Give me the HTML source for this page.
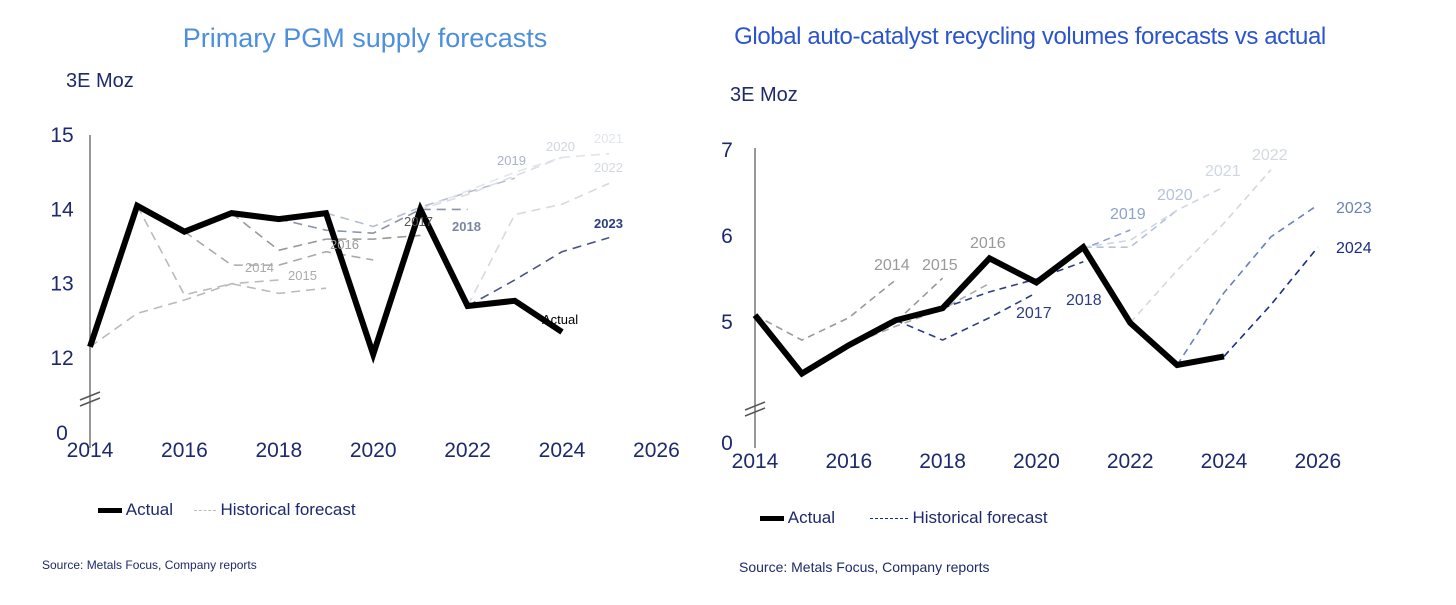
<!DOCTYPE html>
<html><head><meta charset="utf-8"><style>
body{margin:0;background:#fff;width:1456px;height:605px;overflow:hidden;font-family:"Liberation Sans",sans-serif}
svg{position:absolute;left:0;top:0}
</style></head><body>
<svg id="c" width="1456" height="605"></svg>
<script>
const years=[2014,2015,2016,2017,2018,2019,2020,2021,2022,2023,2024,2025,2026];
const leftActual=[12.15,14.05,13.7,13.95,13.87,13.95,12.05,14.0,12.7,12.77,12.35];
const leftForecastStart=[2014,2015,2016,2017,2018,2019,2020,2021,2022,2022];
const leftForecastNames=["2014","2015","2016","2017","2018","2019","2020","2021","2022","2023"];
const leftForecastVals=[
[12.15,12.6,12.78,13.0,13.05],
[14.05,12.85,13.0,12.87,12.94],
[13.7,13.25,13.25,13.43,13.32],
[13.95,13.45,13.6,13.6,13.65],
[13.87,13.72,13.68,14.0,14.0],
[13.95,13.77,14.03,14.23,14.42],
[12.05,14.0,14.2,14.45,14.7],
[14.0,14.25,14.5,14.7,14.75],
[12.7,13.93,14.07,14.35],
[12.7,13.05,13.43,13.62]];
const leftColors=["#bbb","#bbb","#aaa","#999","#8a94a8","#b8c0d0","#d8dde6","#e2e5ea","#d6d9de","#4a5680"];
const rightActual=[5.08,4.4,4.73,5.02,5.16,5.74,5.46,5.87,4.99,4.5,4.6];
const rightForecastStart=[2014,2015,2016,2017,2018,2019,2020,2021,2022,2023,2024];
const rightForecastNames=["2014","2015","2016","2017","2018","2019","2020","2021","2022","2023","2024"];
const rightForecastVals=[
[5.08,4.79,5.05,5.49],
[4.4,4.73,5.0,5.51],
[4.73,4.95,5.15,5.45],
[5.02,4.79,5.05,5.34],
[5.16,5.35,5.5,5.7],
[5.74,5.46,5.85,6.07],
[5.46,5.87,5.87,6.3],
[5.87,5.95,6.3,6.57],
[4.99,5.6,6.15,6.77],
[4.5,5.34,5.99,6.36],
[4.6,5.2,5.87]];
const rightColors=["#999","#999","#aaa","#2c3d80","#2c3d80","#8fa3c8","#b5c2da","#cfd7e6","#d4d8df","#6a82b5","#1a2c8a"];
const leftTicks=[12,13,14,15];
const rightTicks=[5,6,7];
const xTicks=[2014,2016,2018,2020,2022,2024,2026];

const S=document.getElementById('c');const NS='http://www.w3.org/2000/svg';
function el(t,a,txt){const e=document.createElementNS(NS,t);for(const k in a)e.setAttribute(k,a[k]);if(txt!==undefined)e.textContent=txt;S.appendChild(e);return e;}

function chart(cfg){
 const X=y=>cfg.x0+(y-2014)*cfg.dx, Y=v=>cfg.y0-(v-cfg.vb)*cfg.dy;
 let e=el('line',{x1:cfg.x0,x2:cfg.x0,y1:cfg.top,y2:cfg.bot,stroke:'#777','stroke-width':1.5});
 
 e=el('path',{d:`M${cfg.x0-10} ${cfg.brk+4}l20 -8M${cfg.x0-10} ${cfg.brk+10}l20 -8`,stroke:'#555','stroke-width':1.5,fill:'none'});
 
 cfg.ticks.forEach(t=>{e=el('text',{x:cfg.x0-28,y:Y(t)+7,'text-anchor':'middle','font-size':21,fill:'#1d2a6b'},t);
  });
 e=el('text',{x:cfg.x0-28,y:cfg.zeroY,'text-anchor':'middle','font-size':21,fill:'#1d2a6b'},'0');
 
 xTicks.forEach(t=>{e=el('text',{x:X(t),y:cfg.xlab,'text-anchor':'middle','font-size':21,fill:'#1d2a6b'},t);
  });
 cfg.fv.forEach((vals,i)=>{const s=cfg.fs[i];
  const d=vals.map((v,j)=>(j?'L':'M')+X(s+j)+' '+Y(v)).join('');
  e=el('path',{d,stroke:cfg.fc[i],'stroke-width':1.6,fill:'none','stroke-dasharray':cfg.dash});
  });
 const d=cfg.act.map((v,j)=>(j?'L':'M')+X(2014+j)+' '+Y(v)).join('');
 e=el('path',{d,stroke:'#000','stroke-width':cfg.aw,fill:'none','stroke-linejoin':'miter'});
 
 cfg.labels.forEach(l=>{e=el('text',{x:l[1],y:l[2],'font-size':cfg.lfs,fill:l[3],'font-weight':l[4]||'normal'},l[0]);
  });
}
chart({p:'left',x0:90,dx:47.2,y0:358,vb:12,dy:74.3,top:135,bot:448,brk:396,zeroY:440,xlab:457,ticks:leftTicks,
 act:leftActual,fv:leftForecastVals,fs:leftForecastStart,fn:leftForecastNames,fc:leftColors,dash:'9 6',aw:6,lfs:13,
 labels:[['2014',245,272,'#aaa'],['2015',288,280,'#aaa'],['2016',330,249,'#999'],['2017',404,226,'#555'],['2018',452,231,'#7a86a0','bold'],
  ['2019',497,165,'#a8b3c8'],['2020',546,151,'#d0d5de'],['2021',594,143,'#e2e5ea'],['2022',594,172,'#d6d9de'],['2023',594,228,'#2c3d80','bold'],['Actual',542,324,'#000']]});
chart({p:'right',x0:755,dx:46.9,y0:322,vb:5,dy:86,top:148,bot:448,brk:406,zeroY:450,xlab:468,ticks:rightTicks,
 act:rightActual,fv:rightForecastVals,fs:rightForecastStart,fn:rightForecastNames,fc:rightColors,dash:'7 5',aw:6,lfs:16,
 labels:[['2014',874,270,'#999'],['2015',922,270,'#999'],['2016',970,248,'#999'],['2017',1016,318,'#2c3d80'],['2018',1066,305,'#2c3d80'],
  ['2019',1110,219,'#8fa3c8'],['2020',1157,200,'#b5c2da'],['2021',1205,176,'#cfd7e6'],['2022',1252,160,'#d4d8df'],['2023',1336,213,'#6a82b5'],['2024',1336,253,'#1a2c8a']]});
</script>
<div style="position:absolute;left:140px;top:23px;width:450px;text-align:center;font-size:27px;color:#4d8fdc">Primary PGM supply forecasts</div>
<div style="position:absolute;left:710px;top:23px;width:640px;text-align:center;font-size:24px;color:#2a55cc;letter-spacing:-0.4px">Global auto-catalyst recycling volumes forecasts vs actual</div>
<div style="position:absolute;left:66px;top:70px;font-size:20px;color:#1d2a6b">3E Moz</div>
<div style="position:absolute;left:730px;top:84px;font-size:20px;color:#1d2a6b">3E Moz</div>
<div style="position:absolute;left:98px;top:500px;font-size:17px;color:#1d2a6b">
<span style="display:inline-block;width:24px;height:5px;background:#000;vertical-align:middle"></span> Actual
<span style="display:inline-block;width:22px;border-top:1.5px dashed #bbb;vertical-align:middle;margin-left:16px"></span> Historical forecast</div>
<div style="position:absolute;left:760px;top:508px;font-size:17px;color:#1d2a6b">
<span style="display:inline-block;width:24px;height:5px;background:#000;vertical-align:middle"></span> Actual
<span style="display:inline-block;width:38px;border-top:1.5px dashed #1a2c8a;vertical-align:middle;margin-left:30px"></span> Historical forecast</div>
<div style="position:absolute;left:42px;top:558px;font-size:12px;color:#1d2a6b">Source: Metals Focus, Company reports</div>
<div style="position:absolute;left:739px;top:559px;font-size:14px;color:#1d2a6b">Source: Metals Focus, Company reports</div>
</body></html>
